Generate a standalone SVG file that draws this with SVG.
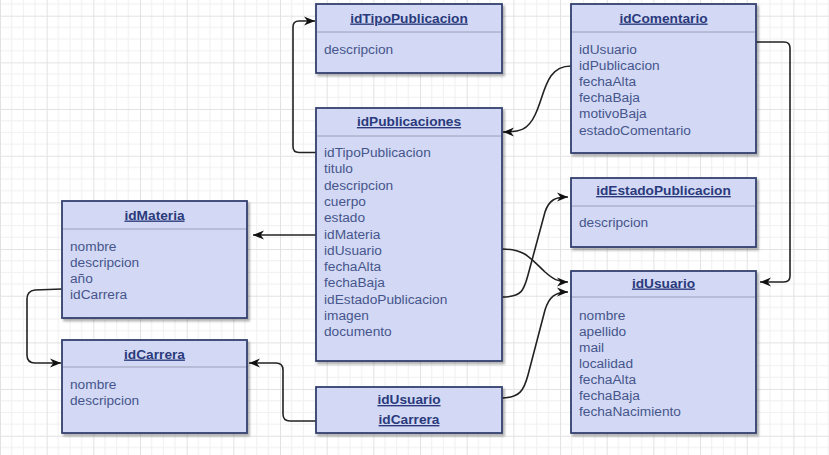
<svg xmlns="http://www.w3.org/2000/svg" width="829" height="455" viewBox="0 0 829 455">
<style>
.box{fill:#d3d9f4;stroke:#33416f;stroke-width:1.8;filter:url(#sh)}
.sep{stroke:#9aa0b8;stroke-width:1}
.t{font-family:"Liberation Sans",Arial,sans-serif;font-size:13.7px;font-weight:bold;fill:#2a3a7c;text-decoration:underline;text-anchor:middle}
.f{font-family:"Liberation Sans",Arial,sans-serif;font-size:13.7px;fill:#46558c}
.c{fill:none;stroke:#222;stroke-width:1.6;marker-end:url(#arr)}
</style>
<defs>
<pattern id="grid" x="0" y="15.7" width="46.67" height="46.67" patternUnits="userSpaceOnUse">
<path d="M11.67,0V46.67M23.33,0V46.67M35,0V46.67M0,11.67H46.67M0,23.33H46.67M0,35H46.67" stroke="#f0f0f0" stroke-width="1" fill="none"/>
<path d="M0.5,0V46.67M0,0.5H46.67" stroke="#e2e2e2" stroke-width="1" fill="none"/>
</pattern>
<filter id="sh" x="-5%" y="-5%" width="115%" height="115%">
<feDropShadow dx="2" dy="2.5" stdDeviation="1.2" flood-color="#000" flood-opacity="0.3"/>
</filter>
<marker id="arr" viewBox="0 0 10 10" refX="10" refY="5" markerWidth="11" markerHeight="11" markerUnits="userSpaceOnUse" orient="auto">
<path d="M0,1 L10,5 L0,9 L3,5 z" fill="#111"/>
</marker>
</defs>
<rect width="829" height="455" fill="#ffffff"/>
<rect width="829" height="455" fill="url(#grid)"/>

<g id="connectors">
<path class="c" d="M316,152.5 L299,152.5 Q293,152.5 293,146.5 L293,27 Q293,21 299,21 L315,21"/>
<path class="c" d="M571,66 C545,66 545,95 535,115 C528,130 520,132 503,132"/>
<path class="c" d="M756,42 L784,42 Q790,42 790,48 L790,276 Q790,282 784,282 L760,282"/>
<path class="c" d="M316,235 L253,235"/>
<path class="c" d="M62,289 L35,290 Q27,291 27,299 L27,355 Q27,363 35,363 L61,363"/>
<path class="c" d="M316,421 L290,421 Q283,421 283,414 L283,370 Q283,363 276,363 L249,363"/>
<path class="c" d="M502,249 C525,249 530,258 545,272 C553,279 558,282 568,282"/>
<path class="c" d="M502,297 C522,297 524,290 528,275 L545,212 C549,200 555,197 568,197"/>
<path class="c" d="M501,398 C520,398 524,390 528,375 L545,310 C549,297 555,292 568,292"/>
</g>

<g id="idTipoPublicacion">
<rect class="box" x="316" y="4" width="186" height="69"/>
<line class="sep" x1="317" y1="32" x2="501" y2="32"/>
<text class="t" x="409" y="22.5">idTipoPublicacion</text>
<text class="f" x="324" y="54">descripcion</text>
</g>

<g id="idPublicaciones">
<rect class="box" x="316" y="108" width="186" height="253"/>
<line class="sep" x1="317" y1="136" x2="501" y2="136"/>
<text class="t" x="409" y="126">idPublicaciones</text>
<text class="f" x="324" y="157">idTipoPublicacion<tspan x="324" dy="16.3">titulo</tspan><tspan x="324" dy="16.3">descripcion</tspan><tspan x="324" dy="16.3">cuerpo</tspan><tspan x="324" dy="16.3">estado</tspan><tspan x="324" dy="16.3">idMateria</tspan><tspan x="324" dy="16.3">idUsuario</tspan><tspan x="324" dy="16.3">fechaAlta</tspan><tspan x="324" dy="16.3">fechaBaja</tspan><tspan x="324" dy="16.3">idEstadoPublicacion</tspan><tspan x="324" dy="16.3">imagen</tspan><tspan x="324" dy="16.3">documento</tspan></text>
</g>

<g id="idComentario">
<rect class="box" x="571" y="4" width="185" height="149"/>
<line class="sep" x1="572" y1="32" x2="755" y2="32"/>
<text class="t" x="663.5" y="22.5">idComentario</text>
<text class="f" x="579" y="54">idUsuario<tspan x="579" dy="16.1">idPublicacion</tspan><tspan x="579" dy="16.1">fechaAlta</tspan><tspan x="579" dy="16.1">fechaBaja</tspan><tspan x="579" dy="16.1">motivoBaja</tspan><tspan x="579" dy="16.1">estadoComentario</tspan></text>
</g>

<g id="idEstadoPublicacion">
<rect class="box" x="571" y="178" width="185" height="69"/>
<line class="sep" x1="572" y1="206" x2="755" y2="206"/>
<text class="t" x="663.5" y="195">idEstadoPublicacion</text>
<text class="f" x="579" y="227">descripcion</text>
</g>

<g id="idUsuario">
<rect class="box" x="571" y="271" width="185" height="162"/>
<line class="sep" x1="572" y1="297" x2="755" y2="297"/>
<text class="t" x="663.5" y="287.5">idUsuario</text>
<text class="f" x="579" y="319.5">nombre<tspan x="579" dy="16.1">apellido</tspan><tspan x="579" dy="16.1">mail</tspan><tspan x="579" dy="16.1">localidad</tspan><tspan x="579" dy="16.1">fechaAlta</tspan><tspan x="579" dy="16.1">fechaBaja</tspan><tspan x="579" dy="16.1">fechaNacimiento</tspan></text>
</g>

<g id="idMateria">
<rect class="box" x="62" y="201" width="185" height="117"/>
<line class="sep" x1="63" y1="229" x2="246" y2="229"/>
<text class="t" x="154.5" y="219.5">idMateria</text>
<text class="f" x="70" y="250.5">nombre<tspan x="70" dy="16">descripcion</tspan><tspan x="70" dy="16">año</tspan><tspan x="70" dy="16">idCarrera</tspan></text>
</g>

<g id="idCarrera">
<rect class="box" x="62" y="340" width="185" height="93"/>
<line class="sep" x1="63" y1="367" x2="246" y2="367"/>
<text class="t" x="154.5" y="358.5">idCarrera</text>
<text class="f" x="70" y="389">nombre<tspan x="70" dy="16">descripcion</tspan></text>
</g>

<g id="idUsuario_idCarrera">
<rect class="box" x="316" y="387" width="186" height="46"/>
<text class="t" x="409" y="404">idUsuario</text>
<text class="t" x="409" y="424">idCarrera</text>
</g>
</svg>
